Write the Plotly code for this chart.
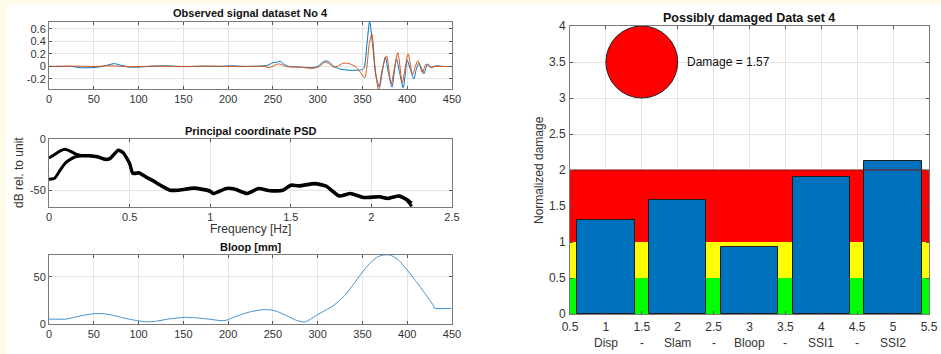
import plotly.graph_objects as go

# ---------------- data ----------------
# Observed signal dataset No 4 (two channels)
sig_blue_x = [0, 25, 35, 45, 55, 65, 73, 80, 90, 100, 115, 130, 145, 160, 175, 190, 205, 220, 235,
              244, 250, 255, 258, 262, 268, 280, 292, 300, 305, 309, 313, 318, 325, 335, 345, 350,
              352, 355, 358, 361, 365, 369, 372, 375.5, 379, 383, 385.5, 388, 391.5, 395.5, 398,
              400, 403.5, 407.5, 410, 413, 416, 418.5, 421, 423, 427, 432, 440, 450]
sig_blue_y = [0, 0, -0.02, -0.02, -0.01, 0.02, 0.045, 0.02, -0.01, -0.01, 0.005, 0.01, 0.0, 0.0,
              0.005, 0.0, 0.01, 0.0, 0.005, 0.02, 0.06, 0.07, 0.085, 0.04, 0.0, -0.01, -0.02, 0.0,
              0.06, 0.09, 0.07, 0.0, -0.04, -0.06, -0.06, -0.05, -0.02, 0.35, 0.72, 0.4, -0.15,
              -0.33, -0.1, 0.15, -0.1, -0.33, -0.1, 0.12, -0.1, -0.34, -0.1, 0.1, -0.05, -0.2,
              -0.05, 0.05, -0.03, -0.12, -0.02, 0.04, -0.02, 0.01, 0.0, 0.0]
sig_orange_x = [0, 30, 50, 70, 90, 120, 150, 180, 210, 240, 246, 252, 256, 259, 264, 280, 295, 302,
                308, 313, 318, 322, 328, 334, 342, 348, 352.5, 355, 357.5, 360.5, 364, 368, 372,
                377, 382, 386, 389.5, 394.5, 398, 401, 406, 409, 412, 417, 421, 425, 430, 440, 450]
sig_orange_y = [0, 0.005, 0.0, 0.01, -0.005, 0.005, 0.0, 0.005, 0.0, 0.0, -0.02, 0.02, 0.04, 0.035,
                0.0, -0.01, -0.03, 0.0, 0.07, 0.04, -0.01, 0.0, 0.05, 0.05, 0.0, -0.1, -0.18, 0.0,
                0.35, 0.52, 0.0, -0.38, -0.05, 0.17, -0.28, 0.0, 0.22, -0.26, 0.0, 0.2, -0.13, 0.0,
                0.09, -0.1, 0.04, -0.01, 0.0, 0.0, 0.0]
sig_ticks = [-0.2, 0, 0.2, 0.4, 0.6]
sig_ticktext = ['-0.2', '0', '0.2', '0.4', '0.6']

# Principal coordinate PSD
psd_f = [0, 0.035, 0.07, 0.1, 0.14, 0.17, 0.2, 0.25, 0.3, 0.35, 0.38, 0.43, 0.46, 0.5, 0.52, 0.56,
         0.6, 0.65, 0.7, 0.75, 0.8, 0.9, 1.0, 1.02, 1.1, 1.15, 1.23, 1.3, 1.37, 1.45, 1.5, 1.55,
         1.65, 1.72, 1.8, 1.87, 1.95, 2.05, 2.1, 2.17, 2.22, 2.25]
psd_a = [-18.5, -15, -11.5, -10, -12.5, -15, -16, -16, -17, -19.5, -18.5, -10.6, -13, -23.5, -33,
         -32.6, -36.5, -40.6, -45.5, -49.4, -49.4, -47.4, -50.3, -52.6, -47.7, -48.2, -52.6,
         -47.7, -50, -49.5, -44.5, -45.2, -43, -45.5, -55, -52.6, -56.5, -55.8, -57.4, -55,
         -58.4, -62]
psd_b = [-39, -38, -30, -23.5, -19, -17, -16.5, -16.5, -17.5, -20, -19, -11.2, -13.6, -24, -33.6,
         -33.2, -37, -41.2, -46, -50, -50, -48, -51, -53.2, -48.3, -48.8, -53.2, -48.3, -50.6,
         -50.1, -45.1, -45.8, -43.6, -46.1, -55.6, -53.2, -57.1, -56.4, -58, -55.6, -59.5, -65.5]
psd_ticks = [-50, 0]
psd_ticktext = ['-50', '0']
freq_ticks = [0, 0.5, 1, 1.5, 2, 2.5]
freq_ticktext = ['0', '0.5', '1', '1.5', '2', '2.5']

# Bloop [mm]
bloop_x = [0, 19, 30, 40, 51, 60, 70, 85, 99, 109, 120, 135, 151, 165, 180, 192, 198, 210, 225,
           239, 247, 254, 265, 276, 285, 292, 300, 317, 330, 340, 350, 360, 367, 373, 381, 390,
           400, 410, 420, 429, 430.5, 449]
bloop_y = [5.2, 5.2, 7.5, 9.5, 11, 11, 9.5, 6, 3.5, 2.2, 3, 5.5, 7, 6.5, 5, 3.5, 4, 8.5, 13,
           15.2, 15, 13.5, 9, 4, 2, 5, 10, 19, 30, 42, 55, 66, 71, 73, 73, 68, 57, 45, 32, 20,
           16.6, 16.6]

# Possibly damaged Data set 4
categories = ['Disp', 'Slam', 'Bloop', 'SSI1', 'SSI2']
cat_pos = [1, 2, 3, 4, 5]
damage_values = [1.30, 1.58, 0.93, 1.90, 2.125]
axis_labels = ['Disp', '-', 'Slam', '-', 'Bloop', '-', 'SSI1', '-', 'SSI2']
axis_label_pos = [1, 1.5, 2, 2.5, 3, 3.5, 4, 4.5, 5]
band_levels = [0, 0.5, 1, 2]
band_colors = ['#00FF00', '#FFFF00', '#FF0000']
damage_total = 1.57
right_xticks = [0.5, 1, 1.5, 2, 2.5, 3, 3.5, 4, 4.5, 5, 5.5]
right_yticks = [0, 0.5, 1, 1.5, 2, 2.5, 3, 3.5, 4]

# ---------------- layout helpers ----------------
W, H = 941, 354
FONT = 'Liberation Sans, Arial, sans-serif'


def fx(p):
    return p / W


def fy(p):
    return 1 - p / H


def ax(**kw):
    d = dict(showline=True, linecolor='#7a7a7a', linewidth=1, mirror='ticks', ticks='inside',
             ticklen=3, tickcolor='#555555', showgrid=True, gridcolor='#e3e3e3', gridwidth=1,
             zeroline=False, automargin=False,
             tickfont=dict(family=FONT, size=11, color='#333333'))
    d.update(kw)
    return d


fig = go.Figure()

# top-left signals
fig.add_trace(go.Scatter(x=sig_blue_x, y=sig_blue_y, mode='lines',
                         line=dict(color='#0072BD', width=1, shape='spline', smoothing=0.7),
                         xaxis='x', yaxis='y', showlegend=False))
fig.add_trace(go.Scatter(x=sig_orange_x, y=sig_orange_y, mode='lines',
                         line=dict(color='#D95319', width=1, shape='spline', smoothing=0.7),
                         xaxis='x', yaxis='y', showlegend=False))
# PSD
for arr in (psd_a, psd_b):
    fig.add_trace(go.Scatter(x=psd_f, y=arr, mode='lines',
                             line=dict(color='black', width=3, shape='spline', smoothing=0.5),
                             xaxis='x2', yaxis='y2', showlegend=False))
# Bloop
fig.add_trace(go.Scatter(x=bloop_x, y=bloop_y, mode='lines',
                         line=dict(color='#3b8fd0', width=1, shape='spline', smoothing=0.4),
                         xaxis='x3', yaxis='y3', showlegend=False))

# Right: coloured bands
x_mid = (right_xticks[0] + right_xticks[-1]) / 2
x_span = right_xticks[-1] - right_xticks[0]
for i, col in enumerate(band_colors):
    fig.add_trace(go.Bar(x=[x_mid], y=[band_levels[i + 1] - band_levels[i]], base=[band_levels[i]],
                         width=[x_span], marker=dict(color=col, line=dict(width=0)),
                         xaxis='x4', yaxis='y4', showlegend=False, hoverinfo='skip'))
# top edge line of red band
fig.add_trace(go.Scatter(x=[right_xticks[0], right_xticks[-1]], y=[band_levels[-1]] * 2,
                         mode='lines', line=dict(color='#7a1010', width=1),
                         xaxis='x4', yaxis='y4', showlegend=False, hoverinfo='skip'))
# damage bars
fig.add_trace(go.Bar(x=cat_pos, y=damage_values, width=0.8,
                     marker=dict(color='#0072BD', line=dict(color='#1f1f1f', width=1)),
                     xaxis='x4', yaxis='y4', showlegend=False))

LX = [fx(49), fx(452)]
fig.update_layout(
    width=W, height=H,
    margin=dict(l=0, r=0, t=0, b=0, autoexpand=False),
    paper_bgcolor='#FFFBEA', plot_bgcolor='white',
    barmode='overlay', bargap=0,
    font=dict(family=FONT, size=11, color='#333333'),
    xaxis=ax(domain=LX, range=[0, 450], tickvals=list(range(0, 451, 50)), anchor='y'),
    yaxis=ax(domain=[fy(89), fy(22)], range=[-0.36, 0.71], tickvals=sig_ticks,
             ticktext=sig_ticktext, anchor='x'),
    xaxis2=ax(domain=LX, range=[0, 2.5], tickvals=freq_ticks, ticktext=freq_ticktext,
              anchor='y2'),
    yaxis2=ax(domain=[fy(207), fy(139)], range=[-66, 0], tickvals=psd_ticks,
              ticktext=psd_ticktext, anchor='x2'),
    xaxis3=ax(domain=LX, range=[0, 450], tickvals=list(range(0, 451, 50)), anchor='y3'),
    yaxis3=ax(domain=[fy(324), fy(255)], range=[0, 73], tickvals=[0, 50], anchor='x3'),
    xaxis4=ax(domain=[fx(570), fx(929)], range=[0.5, 5.5], tickvals=right_xticks,
              ticktext=[('%g' % v) for v in right_xticks], anchor='y4', ticklabelstandoff=2,
              tickfont=dict(family=FONT, size=12, color='#333333')),
    yaxis4=ax(domain=[fy(314), fy(26)], range=[0, 4], tickvals=right_yticks,
              ticktext=[('%g' % v) for v in right_yticks], anchor='x4', ticklabelstandoff=1,
              tickfont=dict(family=FONT, size=12, color='#333333')),
)

shapes = [
    dict(type='rect', xref='paper', yref='paper', x0=fx(7), x1=1, y0=0, y1=fy(5),
         fillcolor='white', line=dict(width=0), layer='below'),
    dict(type='circle', xref='x4', yref='y4', x0=1.0, x1=2.0, y0=3.0, y1=4.0,
         fillcolor='#FF0000', line=dict(color='#222222', width=1)),
]
fig.update_layout(shapes=shapes)

ann = []


def text(x, y, s, size=11, bold=False, angle=0, xref='paper', yref='paper', xanchor='center',
         color='#111111'):
    ann.append(dict(x=x, y=y, xref=xref, yref=yref, text=('<b>%s</b>' % s) if bold else s,
                    showarrow=False, xanchor=xanchor, yanchor='middle', textangle=angle,
                    font=dict(family=FONT, size=size, color=color)))


text(fx(250.5), fy(13), 'Observed signal dataset No 4', bold=True)
text(fx(250.5), fy(131), 'Principal coordinate PSD', bold=True)
text(fx(250.5), fy(229), 'Frequency [Hz]', size=12, color='#333333')
text(fx(19), fy(173), 'dB rel. to unit', size=12, angle=-90, color='#333333')
text(fx(250.5), fy(247), 'Bloop [mm]', bold=True)
text(fx(749), fy(18), 'Possibly damaged Data set 4', size=12.5, bold=True)
text(fx(539), fy(170), 'Normalized damage', size=12, angle=-90, color='#333333')
for p, s in zip(axis_label_pos, axis_labels):
    text(p, fy(343), s, size=12, xref='x4', color='#333333')
text(2.1, 3.5, 'Damage = %.2f' % damage_total, size=12, xref='x4', yref='y4', xanchor='left',
     color='#111111')
fig.update_layout(annotations=ann)

fig.write_html('out.html', config={'displayModeBar': False},
               post_script="document.body.style.margin='0';"
                           "document.body.style.overflow='hidden';")
